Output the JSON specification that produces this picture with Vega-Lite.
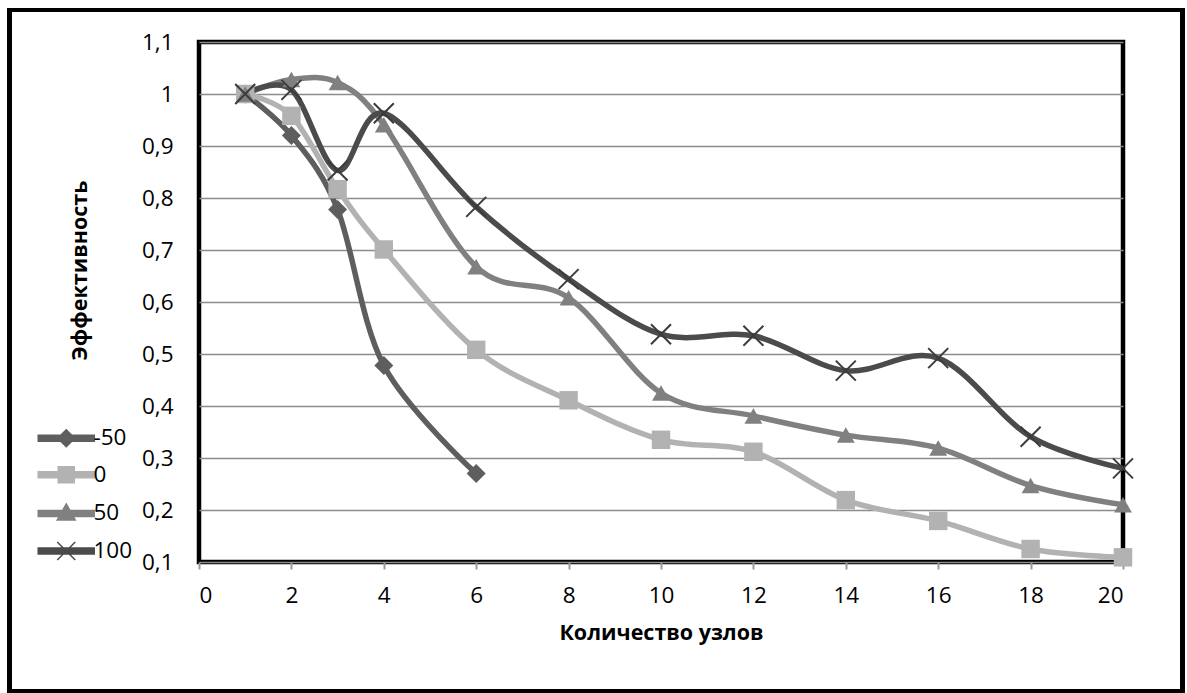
{
  "$schema": "https://vega.github.io/schema/vega-lite/v6.json",
  "width": 924,
  "height": 520,
  "autosize": {"type": "none"},
  "padding": {"left": 199, "top": 42, "right": 64, "bottom": 131},
  "background": "white",
  "config": {
    "view": {"stroke": "black", "strokeWidth": 4.5},
    "font": "Open Sans, sans-serif"
  },
  "data": {
    "values": [
      {"n": 1, "e": 1.0, "s": -50},
      {"n": 2, "e": 0.92, "s": -50},
      {"n": 3, "e": 0.778, "s": -50},
      {"n": 4, "e": 0.478, "s": -50},
      {"n": 6, "e": 0.27, "s": -50},
      {"n": 1, "e": 1.0, "s": 0},
      {"n": 2, "e": 0.958, "s": 0},
      {"n": 3, "e": 0.817, "s": 0},
      {"n": 4, "e": 0.701, "s": 0},
      {"n": 6, "e": 0.508, "s": 0},
      {"n": 8, "e": 0.411, "s": 0},
      {"n": 10, "e": 0.335, "s": 0},
      {"n": 12, "e": 0.312, "s": 0},
      {"n": 14, "e": 0.219, "s": 0},
      {"n": 16, "e": 0.179, "s": 0},
      {"n": 18, "e": 0.125, "s": 0},
      {"n": 20, "e": 0.109, "s": 0},
      {"n": 1, "e": 1.0, "s": 50},
      {"n": 2, "e": 1.028, "s": 50},
      {"n": 3, "e": 1.022, "s": 50},
      {"n": 4, "e": 0.941, "s": 50},
      {"n": 6, "e": 0.668, "s": 50},
      {"n": 8, "e": 0.608, "s": 50},
      {"n": 10, "e": 0.425, "s": 50},
      {"n": 12, "e": 0.381, "s": 50},
      {"n": 14, "e": 0.344, "s": 50},
      {"n": 16, "e": 0.319, "s": 50},
      {"n": 18, "e": 0.247, "s": 50},
      {"n": 20, "e": 0.21, "s": 50},
      {"n": 1, "e": 1.0, "s": 100},
      {"n": 2, "e": 1.008, "s": 100},
      {"n": 3, "e": 0.853, "s": 100},
      {"n": 4, "e": 0.963, "s": 100},
      {"n": 6, "e": 0.783, "s": 100},
      {"n": 8, "e": 0.644, "s": 100},
      {"n": 10, "e": 0.538, "s": 100},
      {"n": 12, "e": 0.535, "s": 100},
      {"n": 14, "e": 0.468, "s": 100},
      {"n": 16, "e": 0.492, "s": 100},
      {"n": 18, "e": 0.341, "s": 100},
      {"n": 20, "e": 0.28, "s": 100}
    ]
  },
  "layer": [
    {
      "mark": {"type": "line", "interpolate": "cardinal", "tension": 0, "strokeWidth": 5.5, "clip": false},
      "encoding": {
        "x": {
          "field": "n", "type": "quantitative",
          "scale": {"domain": [0, 20], "nice": false, "zero": false},
          "axis": {
            "values": [0, 2, 4, 6, 8, 10, 12, 14, 16, 18, 20],
            "domain": false, "grid": false,
            "ticks": true, "tickColor": "#9a9a9a", "tickSize": 7, "tickWidth": 2,
            "labelPadding": 15, "labelFontSize": 22.5, "labelColor": "black", "labelFont": "Open Sans, sans-serif",
            "title": "Количество узлов", "titleFontSize": 21.5, "titleFontWeight": "bold", "titleColor": "black",
            "titleFont": "Open Sans, sans-serif",
            "titleX": 462, "titleY": 71, "titleAlign": "center", "titleBaseline": "middle"
          }
        },
        "y": {
          "field": "e", "type": "quantitative",
          "scale": {"domain": [0.1, 1.1], "nice": false, "zero": false},
          "axis": {
            "values": [0.1, 0.2, 0.3, 0.4, 0.5, 0.6, 0.7, 0.8, 0.9, 1, 1.1],
            "labelExpr": "replace(format(datum.value, '~g'), '.', ',')",
            "domain": false, "ticks": false, "tickSize": 0,
            "grid": true, "gridColor": "#8c8c8c", "gridWidth": 1.6,
            "labelPadding": 26, "labelFontSize": 22.5, "labelColor": "black", "labelFont": "Open Sans, sans-serif",
            "title": "Эффективность", "titleFontSize": 21.5, "titleFontWeight": "bold", "titleColor": "black",
            "titleFont": "Open Sans, sans-serif",
            "titleAngle": -90, "titleX": -119, "titleY": 228, "titleAlign": "center", "titleBaseline": "middle"
          }
        },
        "color": {
          "field": "s", "type": "nominal",
          "scale": {"domain": [-50, 0, 50, 100], "range": ["#5e5e5e", "#b2b2b2", "#808080", "#4b4b4b"]},
          "legend": {
            "orient": "none", "legendX": -144, "legendY": 385, "direction": "vertical",
            "title": null, "padding": 0,
            "labelExpr": "datum.value + ''",
            "labelFontSize": 22.5, "labelColor": "black", "labelFont": "Open Sans, sans-serif",
            "symbolSize": 400, "symbolStrokeWidth": 1.5, "labelOffset": 16, "rowPadding": 13.6,
            "encode": {
              "symbols": {
                "update": {
                  "shape": {"signal": "datum.value == -50 ? 'M-2.8,-0.3H2.8V0.3H-2.8Z M-0.85,0L0,-0.85L0.85,0L0,0.85Z' : datum.value == 0 ? 'M-2.8,-0.3H2.8V0.3H-2.8Z M-0.8,-0.8H0.8V0.8H-0.8Z' : datum.value == 50 ? 'M-2.8,-0.3H2.8V0.3H-2.8Z M0,-0.95L0.9,0.65H-0.9Z' : 'M-2.8,-0.3H2.8V0.3H-2.8Z M-0.9,-0.9L0.9,0.9M-0.9,0.9L0.9,-0.9'"},
                  "fill": {"scale": "color", "field": "value"},
                  "stroke": {"scale": "color", "field": "value"},
                  "strokeWidth": {"value": 1.5},
                  "opacity": {"value": 1}
                }
              }
            }
          }
        }
      }
    },
    {
      "transform": [{"filter": "datum.s != 100"}],
      "mark": {"type": "point", "filled": true, "opacity": 1, "strokeWidth": 0, "clip": false},
      "encoding": {
        "x": {"field": "n", "type": "quantitative"},
        "y": {"field": "e", "type": "quantitative"},
        "color": {"field": "s", "type": "nominal"},
        "shape": {
          "field": "s", "type": "nominal",
          "scale": {"domain": [-50, 0, 50], "range": ["diamond", "square", "triangle-up"]},
          "legend": null
        },
        "size": {
          "field": "s", "type": "nominal",
          "scale": {"domain": [-50, 0, 50], "range": [360, 320, 380]},
          "legend": null
        }
      }
    },
    {
      "transform": [{"filter": "datum.s == 100"}],
      "mark": {"type": "point", "filled": false, "shape": "M-1,-1L1,1M-1,1L1,-1", "size": 400, "stroke": "#3c3c3c", "strokeWidth": 2, "opacity": 1, "clip": false},
      "encoding": {
        "x": {"field": "n", "type": "quantitative"},
        "y": {"field": "e", "type": "quantitative"}
      }
    },
    {
      "mark": {"type": "rect", "filled": false, "stroke": "black", "strokeWidth": 4, "clip": false},
      "encoding": {
        "x": {"datum": -4.1, "type": "quantitative"},
        "x2": {"datum": 21.28},
        "y": {"datum": 1.1616, "type": "quantitative"},
        "y2": {"datum": -0.148}
      }
    }
  ]
}
